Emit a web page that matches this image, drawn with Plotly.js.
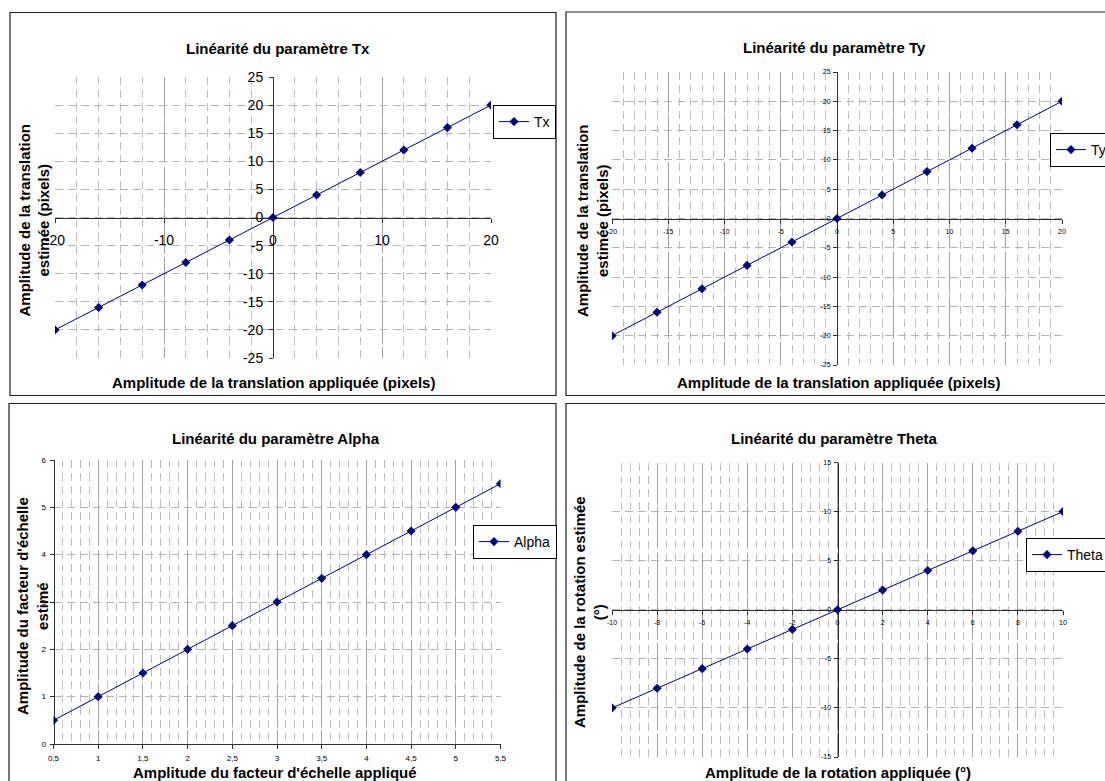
<!DOCTYPE html>
<html>
<head>
<meta charset="utf-8">
<script src="https://cdn.plot.ly/plotly-3.0.1.min.js"></script>
<style>
  html, body { margin: 0; padding: 0; background: #ffffff; }
  #chart { width: 1105px; height: 781px; }
</style>
</head>
<body>
<div id="chart"></div>
<script>
// ---- Series: applied vs. estimated parameter values ----
const txApplied     = [-20, -16, -12, -8, -4, 0, 4, 8, 12, 16, 20];
const txEstimated   = [-20, -16, -12, -8, -4, 0, 4, 8, 12, 16, 20];

const tyApplied     = [-20, -16, -12, -8, -4, 0, 4, 8, 12, 16, 20];
const tyEstimated   = [-20, -16, -12, -8, -4, 0, 4, 8, 12, 16, 20];

const alphaApplied   = [0.5, 1, 1.5, 2, 2.5, 3, 3.5, 4, 4.5, 5, 5.5];
const alphaEstimated = [0.5, 1, 1.5, 2, 2.5, 3, 3.5, 4, 4.5, 5, 5.5];

const thetaApplied   = [-10, -8, -6, -4, -2, 0, 2, 4, 6, 8, 10];
const thetaEstimated = [-10, -8, -6, -4, -2, 0, 2, 4, 6, 8, 10];

// ---- Tick values and labels ----
const txXTickVals = [-20, -10, 0, 10, 20];
const txXTickText = ['-20', '-10', '0', '10', '20'];
const txYTickVals = [-25, -20, -15, -10, -5, 0, 5, 10, 15, 20, 25];
const txYTickText = ['-25', '-20', '-15', '-10', '-5', '0', '5', '10', '15', '20', '25'];

const tyXTickVals = [-20, -15, -10, -5, 0, 5, 10, 15, 20];
const tyXTickText = ['-20', '-15', '-10', '-5', '0', '5', '10', '15', '20'];
const tyYTickVals = [-25, -20, -15, -10, -5, 0, 5, 10, 15, 20, 25];
const tyYTickText = ['-25', '-20', '-15', '-10', '-5', '0', '5', '10', '15', '20', '25'];

const alphaXTickVals = [0.5, 1, 1.5, 2, 2.5, 3, 3.5, 4, 4.5, 5, 5.5];
const alphaXTickText = ['0,5', '1', '1,5', '2', '2,5', '3', '3,5', '4', '4,5', '5', '5,5'];
const alphaYTickVals = [0, 1, 2, 3, 4, 5, 6];
const alphaYTickText = ['0', '1', '2', '3', '4', '5', '6'];

const thetaXTickVals = [-10, -8, -6, -4, -2, 0, 2, 4, 6, 8, 10];
const thetaXTickText = ['-10', '-8', '-6', '-4', '-2', '0', '2', '4', '6', '8', '10'];
const thetaYTickVals = [-15, -10, -5, 0, 5, 10, 15];
const thetaYTickText = ['-15', '-10', '-5', '0', '5', '10', '15'];

// ---- Texts ----
const titles = {
  tx: 'Linéarité du paramètre Tx',
  ty: 'Linéarité du paramètre Ty',
  alpha: 'Linéarité du paramètre Alpha',
  theta: 'Linéarité du paramètre Theta'
};
const xTitles = {
  tx: 'Amplitude de la translation appliquée (pixels)',
  ty: 'Amplitude de la translation appliquée (pixels)',
  alpha: "Amplitude du facteur d'échelle appliqué",
  theta: 'Amplitude de la rotation appliquée (°)'
};
const yTitles = {
  tx: 'Amplitude de la translation<br>estimée (pixels)',
  ty: 'Amplitude de la translation<br>estimée (pixels)',
  alpha: "Amplitude du facteur d'échelle<br>estimé",
  theta: 'Amplitude de la rotation estimée<br>(°)'
};

// ---- Page geometry (pixels) ----
const W = 1105, H = 781;
const FONT = 'Liberation Sans, Arial, sans-serif';
const SERIES_COLOR = '#000080';
const fx = p => p / W;
const fy = p => 1 - p / H;

// Plot rectangles of the four charts
const boxes = {
  tx:    { l: 55,   r: 491,   t: 77,    b: 358 },
  ty:    { l: 612,  r: 1062,  t: 72,    b: 365 },
  alpha: { l: 53.5, r: 500.5, t: 460,   b: 744 },
  theta: { l: 612,  r: 1063,  t: 462.5, b: 757 }
};

// Frames around each chart
const frames = [
  { l: 10,  t: 12.5, r: 556,  b: 395.5 },
  { l: 566, t: 12,   r: 1120, b: 395.5 },
  { l: 9,   t: 403.5, r: 556, b: 800 },
  { l: 566, t: 403.5, r: 1120, b: 800 }
];

const GRID_MAJOR_V = { color: '#a0a0a0', dash: '40px,5px' };
const GRID_MINOR_V = { color: '#bdbdbd', dash: '8px,5px' };
const GRID_H       = { color: '#b5b5b5', dash: '8px,5px' };
const AXIS_COLOR = '#303030';

function makeAxes(box, xr, yr, xTicks, yTicks, minorStep, xCross, yCross, tickSize) {
  const dx = [fx(box.l), fx(box.r)];
  const dy = [fy(box.b), fy(box.t)];
  // paper position where the other axis value crosses
  const xPos = dy[0] + (yCross - yr[0]) / (yr[1] - yr[0]) * (dy[1] - dy[0]);
  const yPos = dx[0] + (xCross - xr[0]) / (xr[1] - xr[0]) * (dx[1] - dx[0]);
  const xaxis = {
    domain: dx, range: xr, anchor: 'free', position: xPos,
    tickmode: 'array', tickvals: xTicks[0], ticktext: xTicks[1],
    showgrid: true, gridcolor: GRID_MAJOR_V.color, griddash: GRID_MAJOR_V.dash, gridwidth: 1,
    minor: { tickmode: 'linear', tick0: xr[0], dtick: minorStep, showgrid: true,
             gridcolor: GRID_MINOR_V.color, griddash: GRID_MINOR_V.dash, gridwidth: 1, ticklen: 0 },
    zeroline: false, showline: true, linecolor: AXIS_COLOR, linewidth: 1,
    ticks: 'outside', ticklen: 4, tickcolor: AXIS_COLOR, tickwidth: 1,
    tickfont: { family: FONT, size: tickSize.size, color: '#000' },
    ticklabelstandoff: tickSize.xStand,
    layer: 'below traces', fixedrange: true
  };
  const yaxis = {
    domain: dy, range: yr, anchor: 'free', position: yPos,
    tickmode: 'array', tickvals: yTicks[0], ticktext: yTicks[1],
    showgrid: true, gridcolor: GRID_H.color, griddash: GRID_H.dash, gridwidth: 1,
    zeroline: false, showline: true, linecolor: AXIS_COLOR, linewidth: 1,
    ticks: 'outside', ticklen: 4, tickcolor: AXIS_COLOR, tickwidth: 1,
    tickfont: { family: FONT, size: tickSize.size, color: '#000' },
    ticklabelstandoff: tickSize.yStand,
    layer: 'below traces', fixedrange: true
  };
  return [xaxis, yaxis];
}

const [xa1, ya1] = makeAxes(boxes.tx, [-20, 20], [-25, 25],
  [txXTickVals, txXTickText], [txYTickVals, txYTickText], 2, 0, 0,
  { size: 14, xStand: 6, yStand: 3 });
const [xa2, ya2] = makeAxes(boxes.ty, [-20, 20], [-25, 25],
  [tyXTickVals, tyXTickText], [tyYTickVals, tyYTickText], 1, 0, 0,
  { size: 7, xStand: 2, yStand: 1 });
const [xa3, ya3] = makeAxes(boxes.alpha, [0.5, 5.5], [0, 6],
  [alphaXTickVals, alphaXTickText], [alphaYTickVals, alphaYTickText], 0.1, 0.5, 0,
  { size: 8, xStand: 2, yStand: 2 });
const [xa4, ya4] = makeAxes(boxes.theta, [-10, 10], [-15, 15],
  [thetaXTickVals, thetaXTickText], [thetaYTickVals, thetaYTickText], 0.4, 0, 0,
  { size: 7, xStand: 2, yStand: 1 });

function series(name, x, y, xa, ya, legend) {
  return {
    type: 'scatter', mode: 'lines+markers', name: name, x: x, y: y,
    xaxis: xa, yaxis: ya, legend: legend,
    line: { color: SERIES_COLOR, width: 1 },
    marker: { symbol: 'diamond', size: 7, color: SERIES_COLOR },
    hoverinfo: 'skip'
  };
}

const data = [
  series('Tx', txApplied, txEstimated, 'x', 'y', 'legend'),
  series('Ty', tyApplied, tyEstimated, 'x2', 'y2', 'legend2'),
  series('Alpha', alphaApplied, alphaEstimated, 'x3', 'y3', 'legend3'),
  series('Theta', thetaApplied, thetaEstimated, 'x4', 'y4', 'legend4')
];

function legendAt(left, top) {
  return {
    x: fx(left), y: fy(top), xanchor: 'left', yanchor: 'top',
    xref: 'paper', yref: 'paper',
    bgcolor: '#ffffff', bordercolor: '#000000', borderwidth: 1,
    font: { family: FONT, size: 14, color: '#000' },
    itemwidth: 30, tracegroupgap: 0
  };
}

function label(text, x, y, opts) {
  return Object.assign({
    text: text, x: fx(x), y: fy(y), xref: 'paper', yref: 'paper',
    xanchor: 'center', yanchor: 'middle', showarrow: false,
    font: { family: FONT, size: 15, color: '#000', weight: 'bold' }
  }, opts || {});
}

const annotations = [
  label(titles.tx, 278, 48),
  label(titles.ty, 834, 47),
  label(titles.alpha, 276, 438),
  label(titles.theta, 834, 438),
  label(xTitles.tx, 273, 383),
  label(xTitles.ty, 838, 383),
  label(xTitles.alpha, 275, 772),
  label(xTitles.theta, 838, 772),
  label(yTitles.tx, 33.5, 220, { textangle: -90 }),
  label(yTitles.ty, 592, 221, { textangle: -90 }),
  label(yTitles.alpha, 32, 606, { textangle: -90 }),
  label(yTitles.theta, 589, 612, { textangle: -90 })
];

const shapes = frames.map(f => ({
  type: 'rect', xref: 'paper', yref: 'paper',
  x0: fx(f.l), x1: fx(f.r), y0: fy(f.b), y1: fy(f.t),
  line: { color: '#1e1e1e', width: 1.2 }, fillcolor: 'rgba(0,0,0,0)', layer: 'above'
}));

const layout = {
  width: W, height: H,
  margin: { l: 0, r: 0, t: 0, b: 0, pad: 0, autoexpand: false },
  paper_bgcolor: '#ffffff', plot_bgcolor: 'rgba(0,0,0,0)',
  font: { family: FONT, color: '#000' },
  showlegend: true,
  xaxis: xa1, yaxis: ya1,
  xaxis2: xa2, yaxis2: ya2,
  xaxis3: xa3, yaxis3: ya3,
  xaxis4: xa4, yaxis4: ya4,
  legend: legendAt(493, 105),
  legend2: legendAt(1050, 133),
  legend3: legendAt(473, 525),
  legend4: legendAt(1026, 538),
  annotations: annotations,
  shapes: shapes
};

Plotly.newPlot('chart', data, layout, { staticPlot: true, displayModeBar: false });
</script>
</body>
</html>
